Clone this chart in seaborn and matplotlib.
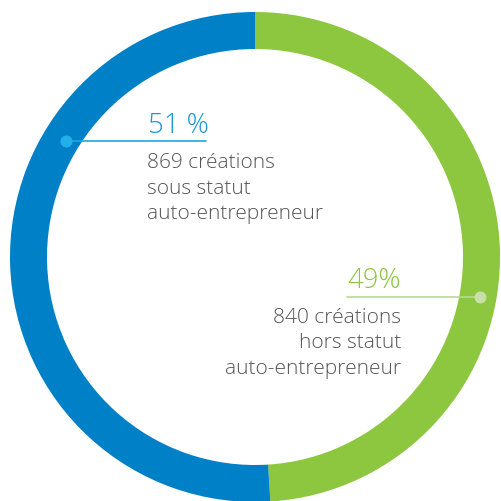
import matplotlib
matplotlib.use("Agg")
import matplotlib.pyplot as plt
import seaborn as sns

labels = ["hors statut auto-entrepreneur", "sous statut auto-entrepreneur"]
percents = [49, 51]
counts = [840, 869]
pct_text = ["49%", "51 %"]
desc = [["840 créations", "hors statut", "auto-entrepreneur"],
        ["869 créations", "sous statut", "auto-entrepreneur"]]

sns.set_theme(style="white")
plt.rcParams['font.family'] = ['Open Sans', 'DejaVu Sans']

ring_colors = ["#8DC63F", "#0080C6"]
H = 501
fig = plt.figure(figsize=(5.01, 5.01), dpi=100)
ax = fig.add_axes([0, 0, 1, 1])

cx, cy, R, w = 255, H - 257, 245, 37
ax.pie(percents, colors=ring_colors, startangle=90, counterclock=False,
       radius=R, center=(cx, cy), frame=True,
       wedgeprops=dict(width=w, linewidth=0))
ax.set_xlim(0, 501)
ax.set_ylim(0, 501)
ax.set_aspect('equal')
ax.axis('off')

txt_color = "#555555"
desc_font = ['Open Sans', 'DejaVu Sans']

# blue annotation
ax.plot([66, 206], [H - 140.5, H - 140.5], color="#1AA7E6", lw=1.2, zorder=3)
ax.scatter([66], [H - 140.5], s=75, color="#22B0EA", zorder=4, linewidths=0)
ax.text(148, H - 133, pct_text[1], color="#1A95D8", fontsize=19.8,
        fontweight='light', ha='left', va='baseline')
for i, line in enumerate(desc[1]):
    ax.text(147, H - (168 + 25.5 * i), line, color=txt_color, fontsize=15,
            family=desc_font, fontweight='light', ha='left', va='baseline')

# green annotation
ax.plot([347, 480], [H - 296.5, H - 296.5], color="#B7DA8E", lw=1.2, zorder=3)
ax.scatter([480], [H - 296.5], s=75, color="#C8DFA8", zorder=4, linewidths=0)
ax.text(347, H - 288, pct_text[0], color="#8DC63F", fontsize=19.8,
        fontweight='light', ha='left', va='baseline')
for i, line in enumerate(desc[0]):
    ax.text(401, H - (323 + 25.5 * i), line, color=txt_color, fontsize=15,
            family=desc_font, fontweight='light', ha='right', va='baseline')

fig.savefig("out.png", dpi=100, facecolor="white")
